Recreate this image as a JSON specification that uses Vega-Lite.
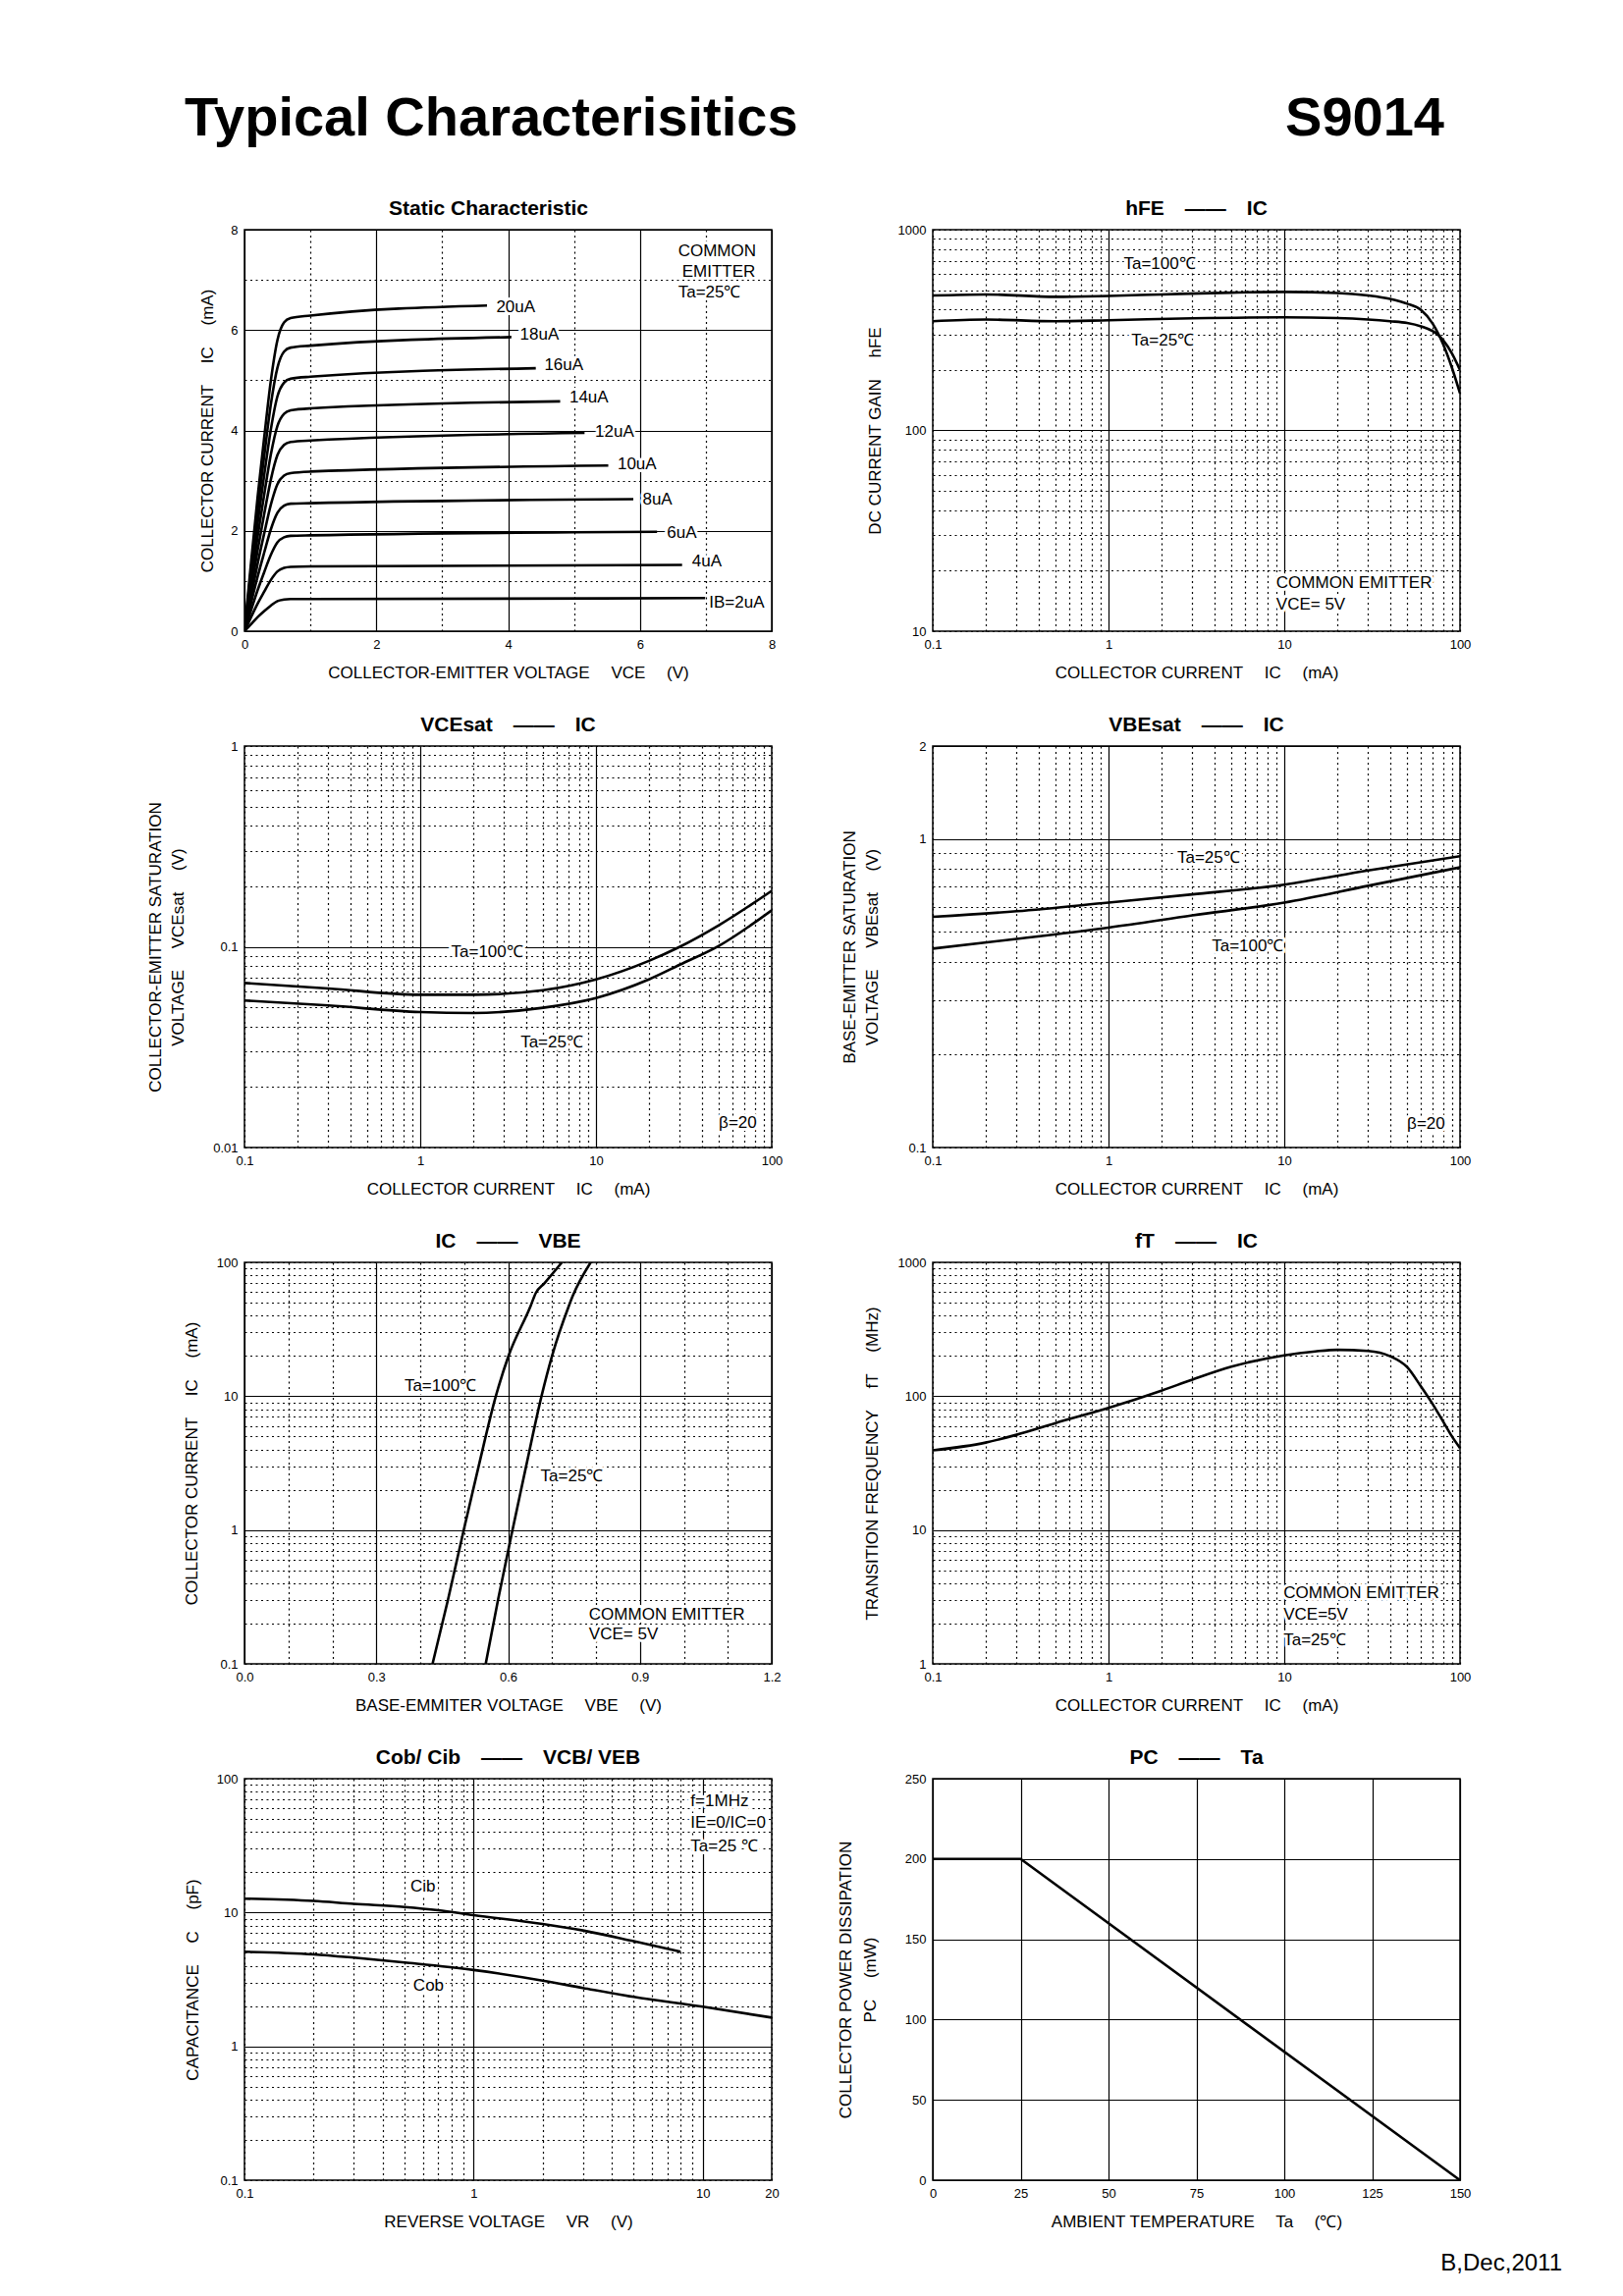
{
"$schema": "https://vega.github.io/schema/vega-lite/v6.json",
"background": "white",
"padding": {"left": 148, "top": 93, "right": 5, "bottom": 0},
"columns": 2,
"spacing": {"row": 117, "column": 164},
"bounds": "flush",
"concat": [
{"width": 537, "height": 1, "view": {"stroke": null}, "data": {"values": []}, "mark": "point",
 "title": {"text": "Typical Characterisitics", "anchor": "start", "frame": "group", "dx": -61, "fontSize": 56, "fontWeight": "bold", "offset": -34}},
{"width": 537, "height": 1, "view": {"stroke": null}, "data": {"values": []}, "mark": "point",
 "title": {"text": "S9014", "anchor": "end", "frame": "group", "dx": -16, "fontSize": 56, "fontWeight": "bold", "offset": -34}},

{"width": 537, "height": 409, "title": {"text": "Static Characteristic", "dx": -20},
 "encoding": {
  "x": {"field": "x", "type": "quantitative", "scale": {"domain": [0, 8], "nice": false, "zero": false},
   "axis": {"title": "COLLECTOR-EMITTER VOLTAGE\u2003 VCE\u2003 (V)", "values": [0,1,2,3,4,5,6,7,8],
    "labelExpr": "datum.value % 2 == 0 ? datum.label : ''",
    "gridDash": {"condition": {"test": "datum.value % 2 != 0", "value": [2, 3.5]}, "value": []}}},
  "y": {"field": "y", "type": "quantitative", "scale": {"domain": [0, 8], "nice": false, "zero": false},
   "axis": {"title": "COLLECTOR CURRENT\u2003 IC\u2003 (mA)", "values": [0,1,2,3,4,5,6,7,8], "titlePadding": 14,
    "labelExpr": "datum.value % 2 == 0 ? datum.label : ''",
    "gridDash": {"condition": {"test": "datum.value % 2 != 0", "value": [2, 3.5]}, "value": []}}}
 },
 "layer": [
  {"data": {"values": [
   {"s":"20","x":0,"y":0},{"s":"20","x":0.1,"y":1.37},{"s":"20","x":0.2,"y":2.68},{"s":"20","x":0.3,"y":3.87},{"s":"20","x":0.4,"y":4.99},{"s":"20","x":0.5,"y":5.8},{"s":"20","x":0.6,"y":6.15},{"s":"20","x":0.7,"y":6.24},{"s":"20","x":1,"y":6.29},{"s":"20","x":3.68,"y":6.49},
   {"s":"18","x":0,"y":0},{"s":"18","x":0.1,"y":1.24},{"s":"18","x":0.2,"y":2.43},{"s":"18","x":0.3,"y":3.5},{"s":"18","x":0.4,"y":4.52},{"s":"18","x":0.5,"y":5.25},{"s":"18","x":0.6,"y":5.57},{"s":"18","x":0.7,"y":5.65},{"s":"18","x":1,"y":5.69},{"s":"18","x":4.05,"y":5.86},
   {"s":"16","x":0,"y":0},{"s":"16","x":0.1,"y":1.11},{"s":"16","x":0.2,"y":2.16},{"s":"16","x":0.3,"y":3.12},{"s":"16","x":0.4,"y":4.02},{"s":"16","x":0.5,"y":4.68},{"s":"16","x":0.6,"y":4.95},{"s":"16","x":0.7,"y":5.03},{"s":"16","x":1,"y":5.07},{"s":"16","x":4.42,"y":5.24},
   {"s":"14","x":0,"y":0},{"s":"14","x":0.1,"y":0.97},{"s":"14","x":0.2,"y":1.89},{"s":"14","x":0.3,"y":2.73},{"s":"14","x":0.4,"y":3.52},{"s":"14","x":0.5,"y":4.09},{"s":"14","x":0.6,"y":4.33},{"s":"14","x":0.7,"y":4.4},{"s":"14","x":1,"y":4.44},{"s":"14","x":4.79,"y":4.58},
   {"s":"12","x":0,"y":0},{"s":"12","x":0.1,"y":0.83},{"s":"12","x":0.2,"y":1.62},{"s":"12","x":0.3,"y":2.34},{"s":"12","x":0.4,"y":3.02},{"s":"12","x":0.5,"y":3.51},{"s":"12","x":0.6,"y":3.71},{"s":"12","x":0.7,"y":3.77},{"s":"12","x":1,"y":3.8},{"s":"12","x":5.16,"y":3.95},
   {"s":"10","x":0,"y":0},{"s":"10","x":0.1,"y":0.69},{"s":"10","x":0.2,"y":1.35},{"s":"10","x":0.3,"y":1.95},{"s":"10","x":0.4,"y":2.52},{"s":"10","x":0.5,"y":2.93},{"s":"10","x":0.6,"y":3.1},{"s":"10","x":0.7,"y":3.15},{"s":"10","x":1,"y":3.18},{"s":"10","x":5.52,"y":3.3},
   {"s":"8","x":0,"y":0},{"s":"8","x":0.1,"y":0.56},{"s":"8","x":0.2,"y":1.09},{"s":"8","x":0.3,"y":1.57},{"s":"8","x":0.4,"y":2.03},{"s":"8","x":0.5,"y":2.36},{"s":"8","x":0.6,"y":2.5},{"s":"8","x":0.7,"y":2.54},{"s":"8","x":1,"y":2.55},{"s":"8","x":5.9,"y":2.63},
   {"s":"6","x":0,"y":0},{"s":"6","x":0.1,"y":0.42},{"s":"6","x":0.2,"y":0.82},{"s":"6","x":0.3,"y":1.18},{"s":"6","x":0.4,"y":1.52},{"s":"6","x":0.5,"y":1.77},{"s":"6","x":0.6,"y":1.87},{"s":"6","x":0.7,"y":1.9},{"s":"6","x":1,"y":1.91},{"s":"6","x":6.26,"y":1.98},
   {"s":"4","x":0,"y":0},{"s":"4","x":0.1,"y":0.28},{"s":"4","x":0.2,"y":0.55},{"s":"4","x":0.3,"y":0.79},{"s":"4","x":0.4,"y":1.02},{"s":"4","x":0.5,"y":1.19},{"s":"4","x":0.6,"y":1.26},{"s":"4","x":0.7,"y":1.28},{"s":"4","x":1,"y":1.29},{"s":"4","x":6.64,"y":1.32},
   {"s":"2","x":0,"y":0},{"s":"2","x":0.1,"y":0.14},{"s":"2","x":0.2,"y":0.28},{"s":"2","x":0.3,"y":0.4},{"s":"2","x":0.4,"y":0.51},{"s":"2","x":0.5,"y":0.6},{"s":"2","x":0.6,"y":0.63},{"s":"2","x":0.7,"y":0.64},{"s":"2","x":1,"y":0.64},{"s":"2","x":6.99,"y":0.66}
  ]},
   "mark": {"type": "line", "color": "black", "strokeWidth": 2.6, "interpolate": "monotone", "clip": true},
   "encoding": {"detail": {"field": "s"}}},
  {"data": {"values": [
   {"t":"20uA","x":3.82,"y":6.45},{"t":"18uA","x":4.18,"y":5.9},{"t":"16uA","x":4.55,"y":5.3},{"t":"14uA","x":4.93,"y":4.66},{"t":"12uA","x":5.32,"y":3.98},{"t":"10uA","x":5.66,"y":3.33},{"t":"8uA","x":6.04,"y":2.63},{"t":"6uA","x":6.41,"y":1.96},{"t":"4uA","x":6.79,"y":1.38},{"t":"IB=2uA","x":7.05,"y":0.57},
   {"t":"COMMON","x":6.58,"y":7.56},{"t":"EMITTER","x":6.64,"y":7.15},{"t":"Ta=25℃","x":6.58,"y":6.74}
  ]},
   "encoding": {"text": {"field": "t"}},
   "layer": [
    {"mark": {"type": "text", "align": "left", "baseline": "middle", "fontSize": 17, "color": "white", "stroke": "white", "strokeWidth": 6, "strokeJoin": "round"}},
    {"mark": {"type": "text", "align": "left", "baseline": "middle", "fontSize": 17, "color": "black"}}
   ]}
 ]},

{"width": 537, "height": 409, "title": "hFE\u2003——\u2003IC",
 "encoding": {
  "x": {"field": "x", "type": "quantitative", "scale": {"type": "log", "domain": [0.1, 100], "nice": false},
   "axis": {"title": "COLLECTOR CURRENT\u2003 IC\u2003 (mA)", "values": [0.1,0.2,0.3,0.4,0.5,0.6,0.7,0.8,0.9,1,2,3,4,5,6,7,8,9,10,20,30,40,50,60,70,80,90,100],
    "labelExpr": "indexof([0.1,1,10,100], datum.value) >= 0 ? format(datum.value, '~g') : ''",
    "gridDash": {"condition": {"test": "indexof([1,10], datum.value) < 0", "value": [2, 3.5]}, "value": []}}},
  "y": {"field": "y", "type": "quantitative", "scale": {"type": "log", "domain": [10, 1000], "nice": false},
   "axis": {"title": "DC CURRENT GAIN\u2003 hFE", "values": [10,20,30,40,50,60,70,80,90,100,200,300,400,500,600,700,800,900,1000], "titlePadding": 14,
    "labelExpr": "indexof([10,100,1000], datum.value) >= 0 ? format(datum.value, '~g') : ''",
    "gridDash": {"condition": {"test": "indexof([100], datum.value) < 0", "value": [2, 3.5]}, "value": []}}}
 },
 "layer": [
  {"data": {"values": [
   {"s":"a","x":0.1,"y":470},{"s":"a","x":0.2,"y":476},{"s":"a","x":0.5,"y":463},{"s":"a","x":1,"y":468},{"s":"a","x":2,"y":476},{"s":"a","x":5,"y":486},{"s":"a","x":10,"y":490},{"s":"a","x":20,"y":484},{"s":"a","x":30,"y":470},{"s":"a","x":40,"y":452},{"s":"a","x":50,"y":428},{"s":"a","x":60,"y":398},{"s":"a","x":70,"y":340},{"s":"a","x":75,"y":305},{"s":"a","x":80,"y":270},{"s":"a","x":90,"y":205},{"s":"a","x":100,"y":153},
   {"s":"b","x":0.1,"y":350},{"s":"b","x":0.2,"y":357},{"s":"b","x":0.5,"y":350},{"s":"b","x":1,"y":354},{"s":"b","x":3,"y":362},{"s":"b","x":10,"y":366},{"s":"b","x":20,"y":363},{"s":"b","x":30,"y":357},{"s":"b","x":40,"y":350},{"s":"b","x":50,"y":343},{"s":"b","x":60,"y":330},{"s":"b","x":70,"y":312},{"s":"b","x":75,"y":300},{"s":"b","x":80,"y":282},{"s":"b","x":90,"y":242},{"s":"b","x":100,"y":200}
  ]},
   "mark": {"type": "line", "color": "black", "strokeWidth": 2.6, "interpolate": "monotone", "clip": true},
   "encoding": {"detail": {"field": "s"}}},
  {"data": {"values": [
   {"t":"Ta=100℃","x":1.22,"y":672},{"t":"Ta=25℃","x":1.35,"y":280},{"t":"COMMON EMITTER","x":9,"y":17.3},{"t":"VCE= 5V","x":9,"y":13.6}
  ]},
   "encoding": {"text": {"field": "t"}},
   "layer": [
    {"mark": {"type": "text", "align": "left", "baseline": "middle", "fontSize": 17, "color": "white", "stroke": "white", "strokeWidth": 6, "strokeJoin": "round"}},
    {"mark": {"type": "text", "align": "left", "baseline": "middle", "fontSize": 17, "color": "black"}}
   ]}
 ]},

{"width": 537, "height": 409, "title": "VCEsat\u2003——\u2003IC",
 "encoding": {
  "x": {"field": "x", "type": "quantitative", "scale": {"type": "log", "domain": [0.1, 100], "nice": false},
   "axis": {"title": "COLLECTOR CURRENT\u2003 IC\u2003 (mA)", "values": [0.1,0.2,0.3,0.4,0.5,0.6,0.7,0.8,0.9,1,2,3,4,5,6,7,8,9,10,20,30,40,50,60,70,80,90,100],
    "labelExpr": "indexof([0.1,1,10,100], datum.value) >= 0 ? format(datum.value, '~g') : ''",
    "gridDash": {"condition": {"test": "indexof([1,10], datum.value) < 0", "value": [2, 3.5]}, "value": []}}},
  "y": {"field": "y", "type": "quantitative", "scale": {"type": "log", "domain": [0.01, 1], "nice": false},
   "axis": {"title": ["COLLECTOR-EMITTER SATURATION", "VOLTAGE\u2003 VCEsat\u2003 (V)"], "titleLineHeight": 23, "titlePadding": 26,
    "values": [0.01,0.02,0.03,0.04,0.05,0.06,0.07,0.08,0.09,0.1,0.2,0.3,0.4,0.5,0.6,0.7,0.8,0.9,1],
    "labelExpr": "indexof([0.01,0.1,1], datum.value) >= 0 ? format(datum.value, '~g') : ''",
    "gridDash": {"condition": {"test": "indexof([0.1], datum.value) < 0", "value": [2, 3.5]}, "value": []}}}
 },
 "layer": [
  {"data": {"values": [
   {"s":"a","x":0.1,"y":0.066},{"s":"a","x":0.3,"y":0.062},{"s":"a","x":1,"y":0.0577},{"s":"a","x":2,"y":0.0577},{"s":"a","x":5,"y":0.0608},{"s":"a","x":10,"y":0.0688},{"s":"a","x":20,"y":0.0851},{"s":"a","x":30,"y":0.1},{"s":"a","x":50,"y":0.128},{"s":"a","x":100,"y":0.19},
   {"s":"b","x":0.1,"y":0.054},{"s":"b","x":0.3,"y":0.051},{"s":"b","x":1,"y":0.0473},{"s":"b","x":2,"y":0.0468},{"s":"b","x":5,"y":0.0497},{"s":"b","x":10,"y":0.0556},{"s":"b","x":20,"y":0.0688},{"s":"b","x":30,"y":0.0814},{"s":"b","x":50,"y":0.101},{"s":"b","x":100,"y":0.152}
  ]},
   "mark": {"type": "line", "color": "black", "strokeWidth": 2.6, "interpolate": "monotone", "clip": true},
   "encoding": {"detail": {"field": "s"}}},
  {"data": {"values": [
   {"t":"Ta=100℃","x":1.5,"y":0.094},{"t":"Ta=25℃","x":3.72,"y":0.0335},{"t":"β=20","x":50,"y":0.0132}
  ]},
   "encoding": {"text": {"field": "t"}},
   "layer": [
    {"mark": {"type": "text", "align": "left", "baseline": "middle", "fontSize": 17, "color": "white", "stroke": "white", "strokeWidth": 6, "strokeJoin": "round"}},
    {"mark": {"type": "text", "align": "left", "baseline": "middle", "fontSize": 17, "color": "black"}}
   ]}
 ]},

{"width": 537, "height": 409, "title": "VBEsat\u2003——\u2003IC",
 "encoding": {
  "x": {"field": "x", "type": "quantitative", "scale": {"type": "log", "domain": [0.1, 100], "nice": false},
   "axis": {"title": "COLLECTOR CURRENT\u2003 IC\u2003 (mA)", "values": [0.1,0.2,0.3,0.4,0.5,0.6,0.7,0.8,0.9,1,2,3,4,5,6,7,8,9,10,20,30,40,50,60,70,80,90,100],
    "labelExpr": "indexof([0.1,1,10,100], datum.value) >= 0 ? format(datum.value, '~g') : ''",
    "gridDash": {"condition": {"test": "indexof([1,10], datum.value) < 0", "value": [2, 3.5]}, "value": []}}},
  "y": {"field": "y", "type": "quantitative", "scale": {"type": "log", "domain": [0.1, 2], "nice": false},
   "axis": {"title": ["BASE-EMITTER SATURATION", "VOLTAGE\u2003 VBEsat\u2003 (V)"], "titleLineHeight": 23, "titlePadding": 27,
    "values": [0.1,0.2,0.3,0.4,0.5,0.6,0.7,0.8,0.9,1,2],
    "labelExpr": "indexof([0.1,1,2], datum.value) >= 0 ? format(datum.value, '~g') : ''",
    "gridDash": {"condition": {"test": "indexof([1,2], datum.value) < 0", "value": [2, 3.5]}, "value": []}}}
 },
 "layer": [
  {"data": {"values": [
   {"s":"a","x":0.1,"y":0.559},{"s":"a","x":0.3,"y":0.583},{"s":"a","x":1,"y":0.622},{"s":"a","x":3,"y":0.661},{"s":"a","x":10,"y":0.711},{"s":"a","x":30,"y":0.79},{"s":"a","x":100,"y":0.879},
   {"s":"b","x":0.1,"y":0.441},{"s":"b","x":0.3,"y":0.474},{"s":"b","x":1,"y":0.516},{"s":"b","x":3,"y":0.565},{"s":"b","x":10,"y":0.622},{"s":"b","x":30,"y":0.705},{"s":"b","x":100,"y":0.809}
  ]},
   "mark": {"type": "line", "color": "black", "strokeWidth": 2.6, "interpolate": "monotone", "clip": true},
   "encoding": {"detail": {"field": "s"}}},
  {"data": {"values": [
   {"t":"Ta=25℃","x":2.46,"y":0.868},{"t":"Ta=100℃","x":3.87,"y":0.45},{"t":"β=20","x":50,"y":0.119}
  ]},
   "encoding": {"text": {"field": "t"}},
   "layer": [
    {"mark": {"type": "text", "align": "left", "baseline": "middle", "fontSize": 17, "color": "white", "stroke": "white", "strokeWidth": 6, "strokeJoin": "round"}},
    {"mark": {"type": "text", "align": "left", "baseline": "middle", "fontSize": 17, "color": "black"}}
   ]}
 ]},

{"width": 537, "height": 409, "title": "IC\u2003——\u2003VBE",
 "encoding": {
  "x": {"field": "x", "type": "quantitative", "scale": {"domain": [0, 1.2], "nice": false, "zero": false},
   "axis": {"title": "BASE-EMMITER VOLTAGE\u2003 VBE\u2003 (V)", "values": [0,0.1,0.2,0.3,0.4,0.5,0.6,0.7,0.8,0.9,1,1.1,1.2],
    "labelExpr": "indexof([0,0.3,0.6,0.9,1.2], datum.value) >= 0 ? format(datum.value, '.1f') : ''",
    "gridDash": {"condition": {"test": "indexof([0,0.3,0.6,0.9,1.2], datum.value) < 0", "value": [2, 3.5]}, "value": []}}},
  "y": {"field": "y", "type": "quantitative", "scale": {"type": "log", "domain": [0.1, 100], "nice": false},
   "axis": {"title": "COLLECTOR CURRENT\u2003 IC\u2003 (mA)", "titlePadding": 16,
    "values": [0.1,0.2,0.3,0.4,0.5,0.6,0.7,0.8,0.9,1,2,3,4,5,6,7,8,9,10,20,30,40,50,60,70,80,90,100],
    "labelExpr": "indexof([0.1,1,10,100], datum.value) >= 0 ? format(datum.value, '~g') : ''",
    "gridDash": {"condition": {"test": "indexof([1,10], datum.value) < 0", "value": [2, 3.5]}, "value": []}}}
 },
 "layer": [
  {"data": {"values": [
   {"s":"a","x":0.428,"y":0.1},{"s":"a","x":0.463,"y":0.3},{"s":"a","x":0.499,"y":1},{"s":"a","x":0.533,"y":3},{"s":"a","x":0.572,"y":10},{"s":"a","x":0.601,"y":20},{"s":"a","x":0.651,"y":47},{"s":"a","x":0.663,"y":59},{"s":"a","x":0.683,"y":70},{"s":"a","x":0.7225,"y":100},
   {"s":"b","x":0.549,"y":0.1},{"s":"b","x":0.577,"y":0.3},{"s":"b","x":0.61,"y":1},{"s":"b","x":0.641,"y":3},{"s":"b","x":0.676,"y":10},{"s":"b","x":0.7,"y":20},{"s":"b","x":0.738,"y":47},{"s":"b","x":0.747,"y":56},{"s":"b","x":0.788,"y":100}
  ]},
   "mark": {"type": "line", "color": "black", "strokeWidth": 2.6, "interpolate": "monotone", "clip": true},
   "encoding": {"detail": {"field": "s"}}},
  {"data": {"values": [
   {"t":"Ta=100℃","x":0.364,"y":12},{"t":"Ta=25℃","x":0.674,"y":2.5},{"t":"COMMON EMITTER","x":0.784,"y":0.233},{"t":"VCE= 5V","x":0.784,"y":0.166}
  ]},
   "encoding": {"text": {"field": "t"}},
   "layer": [
    {"mark": {"type": "text", "align": "left", "baseline": "middle", "fontSize": 17, "color": "white", "stroke": "white", "strokeWidth": 6, "strokeJoin": "round"}},
    {"mark": {"type": "text", "align": "left", "baseline": "middle", "fontSize": 17, "color": "black"}}
   ]}
 ]},

{"width": 537, "height": 409, "title": "fT\u2003——\u2003IC",
 "encoding": {
  "x": {"field": "x", "type": "quantitative", "scale": {"type": "log", "domain": [0.1, 100], "nice": false},
   "axis": {"title": "COLLECTOR CURRENT\u2003 IC\u2003 (mA)", "values": [0.1,0.2,0.3,0.4,0.5,0.6,0.7,0.8,0.9,1,2,3,4,5,6,7,8,9,10,20,30,40,50,60,70,80,90,100],
    "labelExpr": "indexof([0.1,1,10,100], datum.value) >= 0 ? format(datum.value, '~g') : ''",
    "gridDash": {"condition": {"test": "indexof([1,10], datum.value) < 0", "value": [2, 3.5]}, "value": []}}},
  "y": {"field": "y", "type": "quantitative", "scale": {"type": "log", "domain": [1, 1000], "nice": false},
   "axis": {"title": "TRANSITION FREQUENCY\u2003 fT\u2003 (MHz)", "titlePadding": 17,
    "values": [1,2,3,4,5,6,7,8,9,10,20,30,40,50,60,70,80,90,100,200,300,400,500,600,700,800,900,1000],
    "labelExpr": "indexof([1,10,100,1000], datum.value) >= 0 ? format(datum.value, '~g') : ''",
    "gridDash": {"condition": {"test": "indexof([10,100], datum.value) < 0", "value": [2, 3.5]}, "value": []}}}
 },
 "layer": [
  {"data": {"values": [
   {"x":0.1,"y":39.4},{"x":0.2,"y":45},{"x":0.3,"y":51.5},{"x":0.5,"y":63},{"x":1,"y":81.7},{"x":2,"y":110},{"x":3,"y":133},{"x":5,"y":166},{"x":10,"y":202},{"x":15,"y":216},{"x":20,"y":222},{"x":30,"y":218},{"x":40,"y":199},{"x":50,"y":165},{"x":60,"y":118},{"x":70,"y":87},{"x":80,"y":65},{"x":90,"y":50},{"x":100,"y":41}
  ]},
   "mark": {"type": "line", "color": "black", "strokeWidth": 2.6, "interpolate": "monotone", "clip": true}},
  {"data": {"values": [
   {"t":"COMMON EMITTER","x":9.9,"y":3.35},{"t":"VCE=5V","x":9.9,"y":2.33},{"t":"Ta=25℃","x":9.9,"y":1.5}
  ]},
   "encoding": {"text": {"field": "t"}},
   "layer": [
    {"mark": {"type": "text", "align": "left", "baseline": "middle", "fontSize": 17, "color": "white", "stroke": "white", "strokeWidth": 6, "strokeJoin": "round"}},
    {"mark": {"type": "text", "align": "left", "baseline": "middle", "fontSize": 17, "color": "black"}}
   ]}
 ]},

{"width": 537, "height": 409, "title": "Cob/ Cib\u2003——\u2003VCB/ VEB",
 "encoding": {
  "x": {"field": "x", "type": "quantitative", "scale": {"type": "log", "domain": [0.1, 20], "nice": false},
   "axis": {"title": "REVERSE VOLTAGE\u2003 VR\u2003 (V)", "values": [0.1,0.2,0.3,0.4,0.5,0.6,0.7,0.8,0.9,1,2,3,4,5,6,7,8,9,10,20],
    "labelExpr": "indexof([0.1,1,10,20], datum.value) >= 0 ? format(datum.value, '~g') : ''",
    "gridDash": {"condition": {"test": "indexof([1,10], datum.value) < 0", "value": [2, 3.5]}, "value": []}}},
  "y": {"field": "y", "type": "quantitative", "scale": {"type": "log", "domain": [0.1, 100], "nice": false},
   "axis": {"title": "CAPACITANCE\u2003 C\u2003 (pF)", "titlePadding": 15,
    "values": [0.1,0.2,0.3,0.4,0.5,0.6,0.7,0.8,0.9,1,2,3,4,5,6,7,8,9,10,20,30,40,50,60,70,80,90,100],
    "labelExpr": "indexof([0.1,1,10,100], datum.value) >= 0 ? format(datum.value, '~g') : ''",
    "gridDash": {"condition": {"test": "indexof([1,10], datum.value) < 0", "value": [2, 3.5]}, "value": []}}}
 },
 "layer": [
  {"data": {"values": [
   {"s":"ib","x":0.1,"y":12.7},{"s":"ib","x":0.2,"y":12.2},{"s":"ib","x":0.3,"y":11.6},{"s":"ib","x":0.5,"y":11},{"s":"ib","x":0.7,"y":10.4},{"s":"ib","x":1,"y":9.55},{"s":"ib","x":2,"y":8.2},{"s":"ib","x":3,"y":7.34},{"s":"ib","x":5,"y":6.1},{"s":"ib","x":8,"y":5.1},
   {"s":"ob","x":0.1,"y":5.09},{"s":"ob","x":0.2,"y":4.87},{"s":"ob","x":0.3,"y":4.6},{"s":"ob","x":0.5,"y":4.23},{"s":"ob","x":1,"y":3.72},{"s":"ob","x":2,"y":3.1},{"s":"ob","x":3,"y":2.73},{"s":"ob","x":5,"y":2.34},{"s":"ob","x":10,"y":1.98},{"s":"ob","x":20,"y":1.64}
  ]},
   "mark": {"type": "line", "color": "black", "strokeWidth": 2.6, "interpolate": "monotone", "clip": true},
   "encoding": {"detail": {"field": "s"}}},
  {"data": {"values": [
   {"t":"Cib","x":0.53,"y":15.5},{"t":"Cob","x":0.545,"y":2.85},{"t":"f=1MHz","x":8.85,"y":68},{"t":"IE=0/IC=0","x":8.85,"y":47},{"t":"Ta=25 ℃","x":8.85,"y":31}
  ]},
   "encoding": {"text": {"field": "t"}},
   "layer": [
    {"mark": {"type": "text", "align": "left", "baseline": "middle", "fontSize": 17, "color": "white", "stroke": "white", "strokeWidth": 6, "strokeJoin": "round"}},
    {"mark": {"type": "text", "align": "left", "baseline": "middle", "fontSize": 17, "color": "black"}}
   ]}
 ]},

{"width": 537, "height": 409, "title": "PC\u2003——\u2003Ta",
 "encoding": {
  "x": {"field": "x", "type": "quantitative", "scale": {"domain": [0, 150], "nice": false, "zero": false},
   "axis": {"title": "AMBIENT TEMPERATURE\u2003 Ta\u2003 (℃)", "values": [0,25,50,75,100,125,150]}},
  "y": {"field": "y", "type": "quantitative", "scale": {"domain": [0, 250], "nice": false, "zero": false},
   "axis": {"title": ["COLLECTOR POWER DISSIPATION", "PC\u2003 (mW)"], "titleLineHeight": 25, "titlePadding": 26, "values": [0,50,100,150,200,250]}}
 },
 "layer": [
  {"data": {"values": [{"x":0,"y":200},{"x":25,"y":200},{"x":150,"y":0}]},
   "mark": {"type": "line", "color": "black", "strokeWidth": 2.6, "clip": true}}
 ]},

{"width": 537, "height": 1, "view": {"stroke": null}, "data": {"values": []}, "mark": "point"},
{"width": 537, "height": 1, "view": {"stroke": null}, "data": {"values": []}, "mark": "point",
 "title": {"text": "B,Dec,2011", "anchor": "end", "frame": "group", "dx": 104, "fontSize": 24, "fontWeight": "normal", "offset": 20}}
],
"config": {
 "font": "Liberation Sans",
 "view": {"stroke": "black", "strokeWidth": 1.5},
 "axis": {"domain": false, "ticks": false, "grid": true, "gridColor": "black", "gridOpacity": 1, "gridWidth": 1.2,
  "labelFont": "Liberation Sans", "labelFontSize": 13, "labelColor": "black", "labelPadding": 7, "labelFlush": false, "labelOverlap": false,
  "titleFont": "Liberation Sans", "titleFontSize": 17, "titleFontWeight": "normal", "titleColor": "black"},
 "axisX": {"titlePadding": 14},
 "axisY": {"titlePadding": 15},
 "title": {"font": "Liberation Sans", "fontSize": 21, "fontWeight": "bold", "color": "black", "offset": 5}
}
}
